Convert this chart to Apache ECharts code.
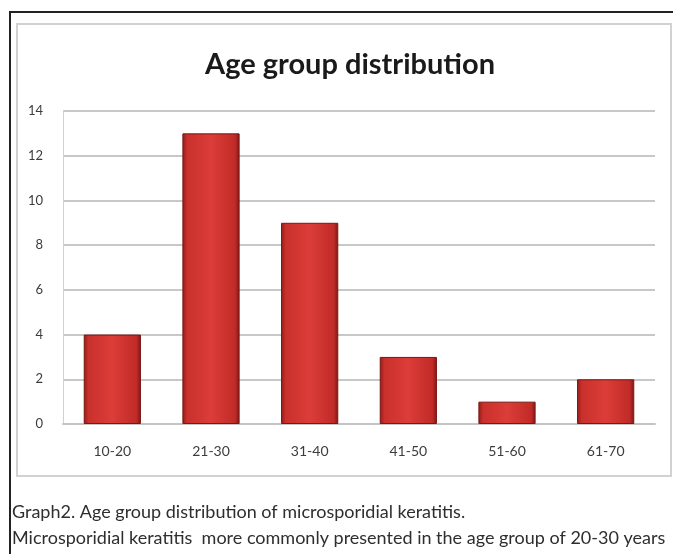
<!DOCTYPE html>
<html>
<head>
<meta charset="utf-8">
<script src="https://cdn.jsdelivr.net/npm/echarts@6/dist/echarts.min.js"></script>
<style>
  html, body { margin: 0; padding: 0; background: #fff; }
  #chart { width: 673px; height: 554px; }
</style>
</head>
<body>
<div id="chart"></div>
<script>
const categories = ["10-20", "21-30", "31-40", "41-50", "51-60", "61-70"];
const patients = [4, 13, 9, 3, 1, 2];
const yTicks = [0, 2, 4, 6, 8, 10, 12, 14];
const captionLines = [
  "Graph2. Age group distribution of microsporidial keratitis.",
  "Microsporidial keratitis  more commonly presented in the age group of 20-30 years"
];

const font = "Lato, 'Open Sans', sans-serif";

// bar fill: darker edges, lighter middle
const barFill = new echarts.graphic.LinearGradient(0, 0, 1, 0, [
  { offset: 0, color: "#8e1c1a" },
  { offset: 0.08, color: "#c9302c" },
  { offset: 0.5, color: "#dc3d38" },
  { offset: 0.92, color: "#c12b28" },
  { offset: 1, color: "#7f1715" }
]);

const chart = echarts.init(document.getElementById("chart"));

let option = {
  backgroundColor: "#ffffff",
  animation: false,
  title: {
    text: "Age group distribution",
    left: 200,
    top: 45,
    textStyle: { fontFamily: font, fontSize: 29, fontWeight: "bold", color: "#1a1a1a" }
  },
  grid: { left: 63, right: 18, top: 111, bottom: 130 },
  xAxis: {
    type: "category",
    data: categories,
    axisLine: { lineStyle: { color: "#c4c4c4", width: 2 } },
    axisTick: { show: false },
    axisLabel: { fontFamily: font, fontSize: 14, color: "#3c3c3c", margin: 20 }
  },
  yAxis: {
    type: "value",
    min: 0,
    max: 14,
    interval: 2,
    axisLine: { show: true, lineStyle: { color: "#d0d0d0" } },
    axisTick: { show: false },
    splitLine: { lineStyle: { color: "#c8c8c8", width: 2 } },
    axisLabel: {
      fontFamily: font, fontSize: 13, color: "#3c3c3c", margin: 20,
      formatter: (v) => (yTicks.includes(v) ? String(v) : "")
    }
  },
  series: [
    {
      type: "bar",
      data: patients,
      barCategoryGap: "42%",
      itemStyle: { color: barFill, borderColor: "#7a1614", borderWidth: 1 }
    }
  ],
  graphic: [
    // outer black frame (top and left)
    { type: "line", shape: { x1: 9, y1: 12, x2: 673, y2: 12 }, style: { stroke: "#222", lineWidth: 2 } },
    { type: "line", shape: { x1: 10, y1: 11, x2: 10, y2: 554 }, style: { stroke: "#222", lineWidth: 2 } },
    // inner grey chart frame
    { type: "rect", shape: { x: 17, y: 24, width: 654, height: 452 }, style: { fill: "none", stroke: "#d2d2d2", lineWidth: 2 } },
    {
      type: "text", left: 12, top: 503,
      style: { text: captionLines[0], font: "18px " + font, fill: "#2e2e2e" }
    },
    {
      type: "text", left: 12, top: 529,
      style: { text: captionLines[1], font: "18px " + font, fill: "#2e2e2e" }
    }
  ]
};

chart.setOption(option);
</script>
</body>
</html>
